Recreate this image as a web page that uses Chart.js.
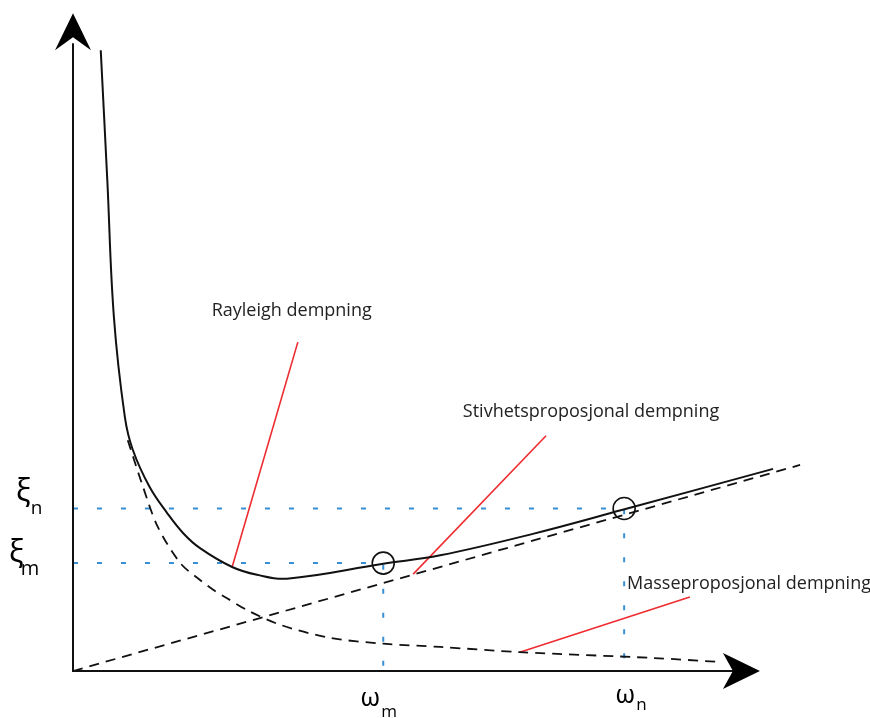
<!DOCTYPE html>
<html>
<head>
<meta charset="utf-8">
<style>
html,body{margin:0;padding:0;background:#fff;}
#wrap{width:870px;height:718px;}
</style>
<script src="https://cdn.jsdelivr.net/npm/chart.js@4.4.1/dist/chart.umd.min.js"></script>
</head>
<body>
<div id="wrap"><canvas id="c" width="870" height="718"></canvas></div>
<script>
// ---- data (abstract units: omega on x, xi on y) ----
const rayleighOmega = [0.38,0.47,0.56,0.71,0.82,1.05,1.29,1.51,1.74,2.18,2.52,2.93,4.25,5.03,6.30,7.53,9.59];
const rayleighXi    = [9.55,7.55,5.45,3.91,3.40,2.83,2.43,2.12,1.89,1.60,1.48,1.42,1.65,1.78,2.11,2.48,3.11];
const stiffOmega = [0, 9.96];
const stiffXi    = [0, 3.17];
const massOmega = [0.75,0.96,1.16,1.47,1.74,1.92,2.11,2.38,2.84,3.52,4.25,5.03,6.12,7.95,8.84];
const massXi    = [3.55,2.83,2.22,1.66,1.40,1.25,1.12,0.94,0.71,0.51,0.42,0.37,0.29,0.20,0.14];
const omegaM = 4.25, omegaN = 7.55;
const xiM = 1.66, xiN = 2.50;
const curveLabels = ['Rayleigh dempning', 'Stivhetsproposjonal dempning', 'Masseproposjonal dempning'];
// leader lines: [label end, curve end]
const leaderRayleigh = [[3.08,5.06],[2.18,1.60]];
const leaderStiff    = [[6.48,3.62],[4.66,1.49]];
const leaderMass     = [[8.45,1.14],[6.12,0.29]];
const axisXEnd = 9.41, axisYEnd = 10.12;

const pts = (xs, ys) => xs.map((v,i)=>({x:v, y:ys[i]}));
const RED = '#ee2b2f', BLUE = '#3a8fd3';

const datasets = [
  {data: pts(rayleighOmega, rayleighXi), borderColor:'#111', borderWidth:2, tension:0.4},
  {data: pts(stiffOmega, stiffXi), borderColor:'#111', borderWidth:1.8, borderDash:[10,7]},
  {data: pts(massOmega, massXi), borderColor:'#111', borderWidth:1.8, borderDash:[10,7], tension:0.3},
  {data: [{x:0,y:xiN},{x:omegaN,y:xiN},{x:omegaN,y:0}], borderColor:BLUE, borderWidth:2, borderDash:[5,19]},
  {data: [{x:0,y:xiM},{x:omegaM,y:xiM},{x:omegaM,y:0}], borderColor:BLUE, borderWidth:2, borderDash:[5,19]},
  {data: leaderRayleigh.map(p=>({x:p[0],y:p[1]})), borderColor:RED, borderWidth:1.6},
  {data: leaderStiff.map(p=>({x:p[0],y:p[1]})), borderColor:RED, borderWidth:1.6},
  {data: leaderMass.map(p=>({x:p[0],y:p[1]})), borderColor:RED, borderWidth:1.6},
  {type:'scatter', data:[{x:omegaM,y:xiM},{x:omegaN,y:xiN}], showLine:false, pointRadius:11, pointBorderWidth:1.6, pointBorderColor:'#111', pointBackgroundColor:'rgba(0,0,0,0)'}
].map(d=>Object.assign({type:'line', pointRadius:0, fill:false, clip:false}, d));

const overlay = {
  id:'overlay',
  afterDatasetsDraw(chart){
    const {ctx, scales:{x, y}} = chart;
    const X = v => x.getPixelForValue(v), Y = v => y.getPixelForValue(v);
    ctx.save();
    // axes
    ctx.strokeStyle = '#111'; ctx.fillStyle = '#000'; ctx.lineWidth = 2;
    const ox = X(0), oy = Y(0), ty = Y(axisYEnd), tx = X(axisXEnd);
    ctx.beginPath(); ctx.moveTo(ox, oy+1); ctx.lineTo(ox, ty+30); ctx.stroke();
    ctx.beginPath(); ctx.moveTo(ox-1, oy); ctx.lineTo(tx-25, oy); ctx.stroke();
    // y arrow
    ctx.beginPath(); ctx.moveTo(ox, ty); ctx.lineTo(ox+18, ty+37); ctx.lineTo(ox, ty+24); ctx.lineTo(ox-18, ty+37); ctx.closePath(); ctx.fill();
    // x arrow
    ctx.beginPath(); ctx.moveTo(tx, oy); ctx.lineTo(tx-37, oy-18); ctx.lineTo(tx-27, oy); ctx.lineTo(tx-37, oy+18); ctx.closePath(); ctx.fill();
    // curve labels
    ctx.fillStyle = '#222';
    ctx.font = '18px "Open Sans"'; ctx.textBaseline = 'middle'; ctx.textAlign = 'left';
    ctx.fillText(curveLabels[0], X(1.90), Y(5.54));
    ctx.fillText(curveLabels[1], X(5.34), Y(3.98));
    ctx.fillText(curveLabels[2], X(7.59), Y(1.34));
    // greek axis labels
    ctx.fillStyle = '#000'; ctx.textBaseline = 'alphabetic';
    const sym = (main, sub, lx, by, f1, f2, dx, dy) => {
      ctx.font = f1 + 'px "Noto Sans"'; ctx.fillText(main, lx, by);
      const w = ctx.measureText(main).width;
      ctx.font = f2 + 'px "Open Sans"'; ctx.fillText(sub, lx + w + dx, by + dy);
    };
    sym('ξ','n', ox-57, Y(xiN)-8, 30, 19, 0, 13);
    sym('ξ','m', ox-64, Y(xiM)-1, 30, 20, -3, 13);
    sym('ω','m', X(omegaM)-23, oy+35, 25, 17, 1, 11);
    sym('ω','n', X(omegaN)-9, oy+32, 25, 17, 1, 7);
    ctx.restore();
  }
};

new Chart(document.getElementById('c'), {
  type:'line',
  data:{datasets},
  options:{
    responsive:false, animation:false, devicePixelRatio:1,
    layout:{padding:{left:73, right:67, top:21, bottom:47}},
    plugins:{legend:{display:false}, tooltip:{enabled:false}},
    scales:{
      x:{type:'linear', min:0, max:10, display:false},
      y:{type:'linear', min:0, max:10, display:false}
    }
  },
  plugins:[overlay]
});
</script>
</body>
</html>
